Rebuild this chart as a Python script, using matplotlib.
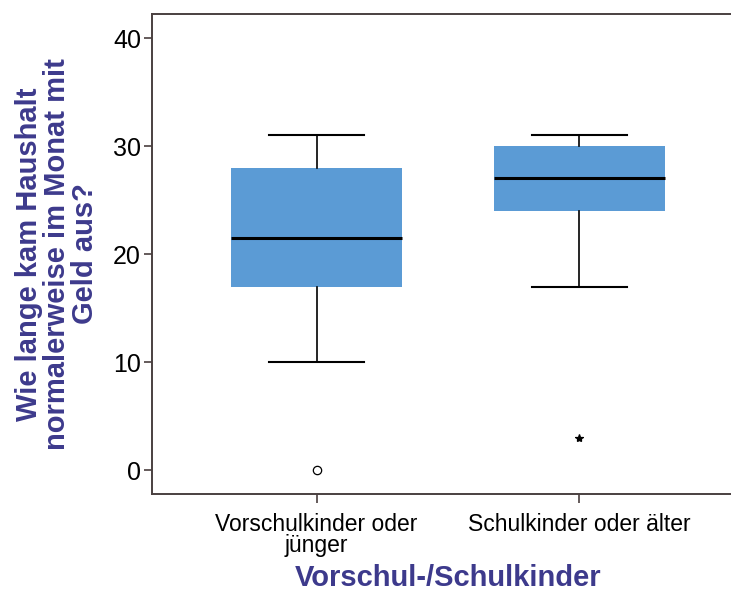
import matplotlib
matplotlib.use("Agg")
import matplotlib.pyplot as plt

plt.rcParams['font.family'] = ['Liberation Sans', 'DejaVu Sans']

groups = ['Vorschulkinder oder\njünger', 'Schulkinder oder älter']
whislo = [10, 17]
q1 = [17, 24]
med = [21.5, 27]
q3 = [28, 30]
whishi = [31, 31]
fliers = [[0], [3]]
flier_marks = ['o', '*']

ink = '#3d3a8c'
frame = '#4a4040'

stats = []
for i in range(len(groups)):
    stats.append(dict(whislo=whislo[i], q1=q1[i], med=med[i], q3=q3[i],
                      whishi=whishi[i], fliers=fliers[i], label=groups[i]))

fig = plt.figure(figsize=(7.31, 5.93), dpi=100)
ax = fig.add_axes([0.208, 0.167, 0.80, 0.809])

res = ax.bxp(stats, positions=[1, 2], widths=0.65, capwidths=0.36,
             patch_artist=True, showfliers=True,
             boxprops=dict(facecolor='#5b9bd5', edgecolor='#5b9bd5', linewidth=0),
             medianprops=dict(color='black', linewidth=2.2),
             whiskerprops=dict(color='black', linewidth=1.2),
             capprops=dict(color='black', linewidth=1.5),
             flierprops=dict(marker='o', markersize=6, markerfacecolor='none',
                             markeredgecolor='black', markeredgewidth=0.9))
for line, m in zip(res['fliers'], flier_marks):
    line.set_marker(m)
    if m == '*':
        line.set_markerfacecolor('black')
        line.set_markersize(6)

ax.set_xlim(0.374, 2.6)
ax.set_ylim(-2.2, 42.2)
ax.set_yticks([0, 10, 20, 30, 40])
ax.spines['right'].set_visible(False)
for s in ['left', 'top', 'bottom']:
    ax.spines[s].set_color(frame)
    ax.spines[s].set_linewidth(1.4)
ax.tick_params(axis='y', direction='out', length=6, width=1.2, color=frame,
               labelsize=18, pad=2)
ax.tick_params(axis='x', direction='out', length=6.5, width=1.2, color=frame,
               labelsize=16.5, pad=7)
for t in ax.get_xticklabels():
    t.set_linespacing(0.9)

ax.set_ylabel('Wie lange kam Haushalt\nnormalerweise im Monat mit\nGeld aus?',
              fontsize=21, fontweight='bold', color=ink, linespacing=1.0,
              multialignment='center')
ax.yaxis.set_label_coords(57 / 731, 1 - 254 / 593, transform=fig.transFigure)
ax.yaxis.label.set_va('center')

fig.text(448 / 731, 0.002, 'Vorschul-/Schulkinder',
         ha='center', va='bottom', fontsize=21, fontweight='bold', color=ink)

fig.savefig('out.png', dpi=100)
